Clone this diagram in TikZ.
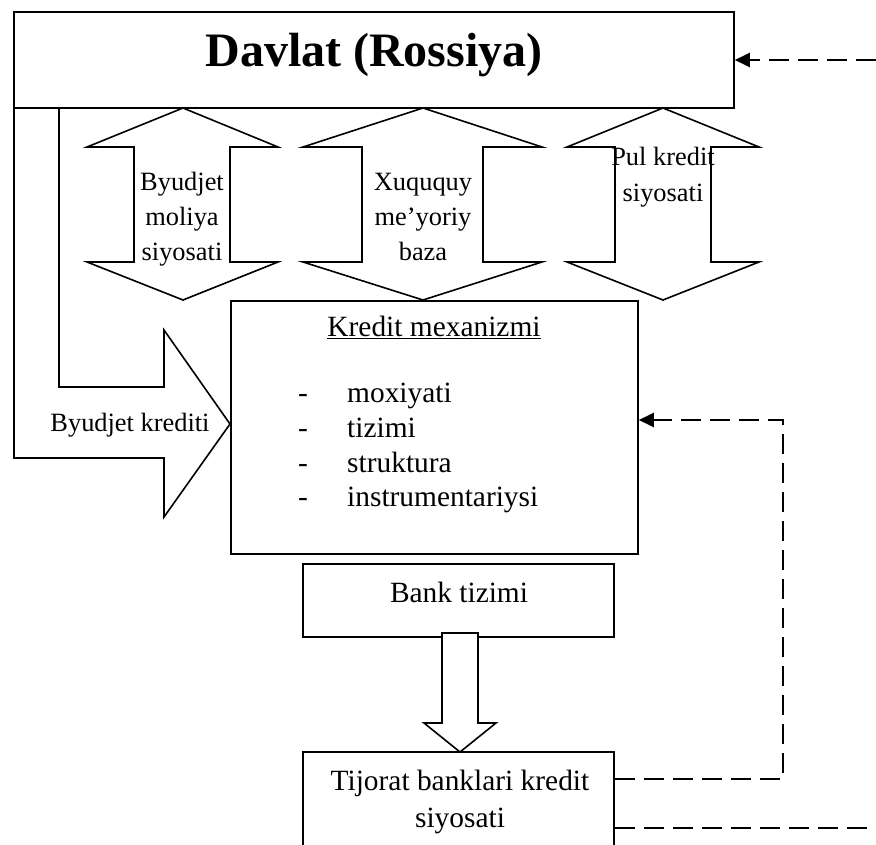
\documentclass[tikz,border=0pt]{standalone}
\usepackage{fontspec}
\setmainfont{Liberation Serif}
\usetikzlibrary{arrows.meta}
\begin{document}
\begin{tikzpicture}[x=1pt,y=-1pt,
  box/.style={draw,line width=1.6pt,fill=white,inner sep=0pt},
  outline/.style={draw,line width=1.6pt,fill=white,line join=miter},
  dashline/.style={line width=2.4pt,dash pattern=on 20pt off 9pt,line join=miter},
  tip/.style={-{Triangle[length=15pt,width=14pt]}},
  main/.style={font=\fontsize{29.4}{34.5}\selectfont,inner sep=0pt,anchor=base},
  small/.style={font=\fontsize{26.4}{35}\selectfont,inner sep=0pt,anchor=base},
  item/.style={main,anchor=base west},
]
\clip (0,0) rectangle (876,845);
\fill[white] (0,0) rectangle (876,845);

% bent arrow: budget credit from the state to the credit mechanism
\draw[outline] (14,108) -- (14,458) -- (164,458) -- (164,517) -- (230,424)
  -- (164,330) -- (164,387) -- (59,387) -- (59,108);
\node[small] (budgetCredit) at (130,431) {Byudjet krediti};

% three double-headed policy arrows
\draw[outline] (183,108) -- (278,147) -- (230,147) -- (230,262) -- (278,262)
  -- (183,300) -- (87,262) -- (134,262) -- (134,147) -- (87,147) -- cycle;
\draw[outline] (423,108) -- (542,147) -- (483,147) -- (483,262) -- (542,262)
  -- (423,300) -- (303,262) -- (362,262) -- (362,147) -- (303,147) -- cycle;
\draw[outline] (663,108) -- (759,147) -- (711,147) -- (711,262) -- (759,262)
  -- (663,300) -- (567,262) -- (615,262) -- (615,147) -- (567,147) -- cycle;

\node[small] (fiscalA) at (182,191) {Byudjet};
\node[small] (fiscalB) at (182,226) {moliya};
\node[small] (fiscalC) at (182,261) {siyosati};
\node[small] (legalA) at (423,191) {Xuququy};
\node[small] (legalB) at (423,226) {me’yoriy};
\node[small] (legalC) at (423,261) {baza};
\node[small] (monetaryA) at (663,166) {Pul kredit};
\node[small] (monetaryB) at (663,202) {siyosati};

% the state
\node[box,minimum width=720pt,minimum height=96pt] (state) at (374,60) {};
\node[inner sep=0pt,anchor=base,font=\fontsize{48}{56}\selectfont\bfseries]
  (stateText) at (374,67) {Davlat (Rossiya)};

% credit mechanism
\node[box,minimum width=407pt,minimum height=253pt] (mech) at (434.5,427.5) {};
\node[main] (mechTitle) at (434,337) {\underline{Kredit mexanizmi}};
\node[main] (d1) at (303,402) {-};
\node[main] (d2) at (303,437) {-};
\node[main] (d3) at (303,472) {-};
\node[main] (d4) at (303,506) {-};
\node[item] (i1) at (347,402) {moxiyati};
\node[item] (i2) at (347,437) {tizimi};
\node[item] (i3) at (347,472) {struktura};
\node[item] (i4) at (347,506) {instrumentariysi};

% banking system and commercial banks
\node[box,minimum width=311pt,minimum height=73pt] (bank) at (458.5,600.5) {};
\node[main] (bankText) at (459,602) {Bank tizimi};
\node[box,minimum width=311pt,minimum height=130pt] (tij) at (458.5,817) {};
\node[main] (tijA) at (460,790) {Tijorat banklari kredit};
\node[main] (tijB) at (460,827) {siyosati};

% block arrow from the banking system down
\draw[outline] (442,633) -- (478,633) -- (478,723) -- (496,723) -- (460,752)
  -- (424,723) -- (442,723) -- cycle;

% dashed feedback lines
\coordinate (rightTop) at (876,60);
\draw[dashline,tip] (rightTop) -- (state.east);
\coordinate (loopCorner) at (783,779);
\coordinate (feedY) at (0,420);
\draw[dashline,tip] (tij.east |- loopCorner) -- (loopCorner) -- (loopCorner |- feedY)
  -- (mech.east |- feedY);
\coordinate (rightBottom) at (876,828);
\draw[dashline] (tij.east |- rightBottom) -- (rightBottom);
\end{tikzpicture}
\end{document}
